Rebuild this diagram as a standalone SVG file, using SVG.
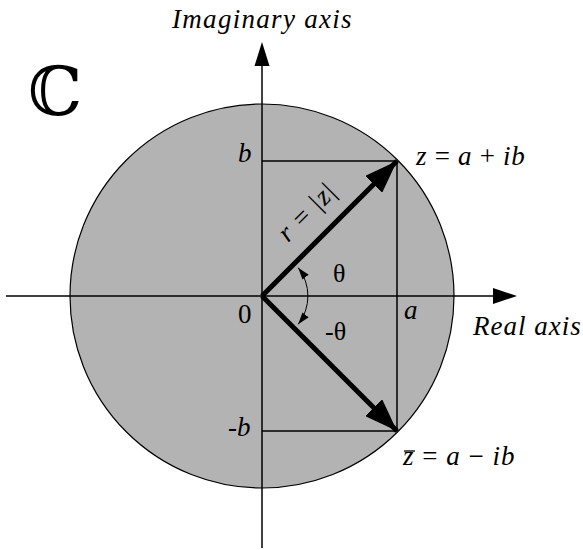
<svg xmlns="http://www.w3.org/2000/svg" width="583" height="550" viewBox="0 0 583 550">
<style>
.thin{fill:none;stroke:#000;stroke-width:1.5}
.vec{fill:none;stroke:#000;stroke-width:5}
</style>
<defs>
<marker id="ah" markerUnits="userSpaceOnUse" viewBox="0 0 33 24" refX="33" refY="12" markerWidth="33" markerHeight="24" orient="auto">
<path d="M0,0 L33,12 L0,24 Z" fill="#000"/>
</marker>
<marker id="sa" markerUnits="userSpaceOnUse" viewBox="0 0 12 8" refX="12" refY="4" markerWidth="12" markerHeight="8" orient="auto-start-reverse">
<path d="M0,0 L12,4 L0,8 Z" fill="#000"/>
</marker>
</defs>
<g id="disk">
<circle cx="262" cy="296" r="192" fill="#b3b3b3" stroke="#000" stroke-width="1.2"/>
</g>
<g id="axes">
<line class="thin" x1="6" y1="296" x2="495" y2="296"/>
<polygon points="517,296 493,288 493,304" fill="#000"/>
<line class="thin" x1="262" y1="548" x2="262" y2="63"/>
<polygon points="262,42 254.5,66 269.5,66" fill="#000"/>
</g>
<g id="box">
<line class="thin" x1="262" y1="161" x2="397" y2="161"/>
<line class="thin" x1="397" y1="161" x2="397" y2="431"/>
<line class="thin" x1="262" y1="431" x2="397" y2="431"/>
</g>
<g id="connectors">
<line class="vec" x1="262" y1="296" x2="397" y2="161" marker-end="url(#ah)"/>
<line class="vec" x1="262" y1="296" x2="397" y2="431" marker-end="url(#ah)"/>
<path d="M298.2,267.7 A46,46 0 0 1 298.2,324.3" fill="none" stroke="#000" stroke-width="1" marker-start="url(#sa)" marker-end="url(#sa)"/>
</g>
<text font-family="Times New Roman, Liberation Serif, serif" font-size="27" font-style="italic" x="172" y="28" letter-spacing="1.3">Imaginary axis</text>
<text font-family="DejaVu Serif, serif" font-size="68" x="28" y="115">ℂ</text>
<text font-family="Times New Roman, Liberation Serif, serif" font-size="27" font-style="italic" x="238" y="162">b</text>
<text font-family="Times New Roman, Liberation Serif, serif" font-size="27" x="416" y="165" letter-spacing="0.7"><tspan font-style="italic">z</tspan> = <tspan font-style="italic">a</tspan> + <tspan font-style="italic">ib</tspan></text>
<text font-family="Times New Roman, Liberation Serif, serif" font-size="27" transform="translate(313,218) rotate(-45)" text-anchor="middle" letter-spacing="1.5"><tspan font-style="italic">r</tspan> = |<tspan font-style="italic">z</tspan>|</text>
<text font-family="Times New Roman, Liberation Serif, serif" font-size="26" x="333" y="282">θ</text>
<text font-family="Times New Roman, Liberation Serif, serif" font-size="27" x="238" y="323">0</text>
<text font-family="Times New Roman, Liberation Serif, serif" font-size="26" x="325" y="340">-θ</text>
<text font-family="Times New Roman, Liberation Serif, serif" font-size="27" font-style="italic" x="404" y="319">a</text>
<text font-family="Times New Roman, Liberation Serif, serif" font-size="27" font-style="italic" x="473" y="335" letter-spacing="1">Real axis</text>
<text font-family="Times New Roman, Liberation Serif, serif" font-size="27" x="228" y="436">-<tspan font-style="italic">b</tspan></text>
<text font-family="Times New Roman, Liberation Serif, serif" font-size="27" x="403" y="465" letter-spacing="1"><tspan font-style="italic">z</tspan> = <tspan font-style="italic">a</tspan> − <tspan font-style="italic">ib</tspan></text>
<line x1="404" y1="451" x2="415" y2="451" stroke="#000" stroke-width="1.3"/>
</svg>
